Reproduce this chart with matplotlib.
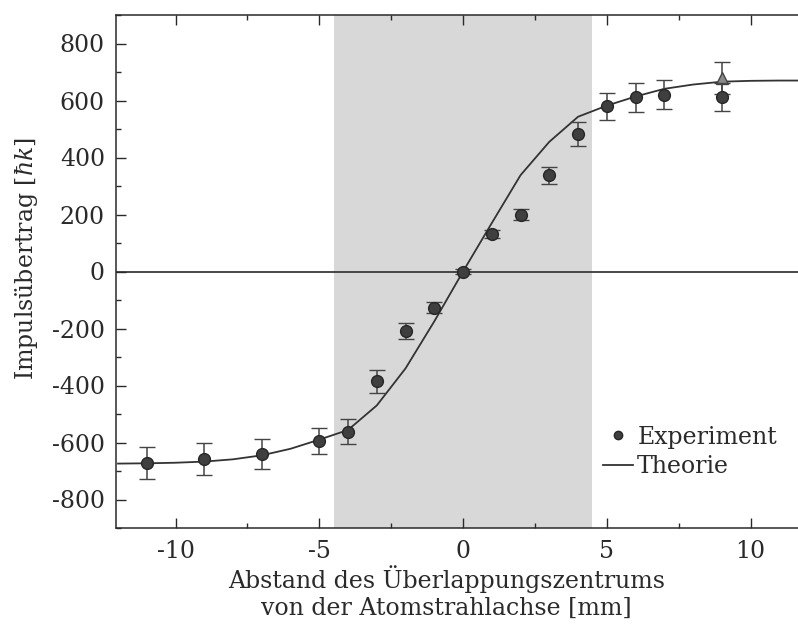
import matplotlib
matplotlib.use("Agg")
import matplotlib.pyplot as plt
from matplotlib.ticker import MultipleLocator
from matplotlib.lines import Line2D

plt.rcParams["font.family"] = ["DejaVu Serif"]
plt.rcParams["mathtext.fontset"] = "dejavuserif"
plt.rcParams["axes.unicode_minus"] = False

# Measured momentum transfer vs. distance of overlap centre from beam axis
exp_x = [-11, -9, -7, -5, -4, -3, -2, -1, 0, 1, 2, 3, 4, 5, 6, 7, 9]
exp_y = [-672, -658, -641, -594, -562, -385, -209, -127, 0, 133, 200, 337, 482, 579, 612, 621, 612]
exp_err = [56, 56, 53, 45, 44, 41, 28, 20, 8, 14, 18, 31, 43, 49, 51, 51, 49]

# Additional measurement (triangle)
extra_x = [9]
extra_y = [680]
extra_err = [56]

# Theoretical curve
theo_x = [-12, -11, -10, -9, -8, -7, -6, -5, -4, -3, -2, -1, 0,
          1, 2, 3, 4, 5, 6, 7, 8, 9, 10, 11, 12]
theo_y = [-674, -673, -671, -667, -659, -645, -622, -590, -556, -470, -340, -175, 0,
          170, 338, 455, 543, 582, 614, 641, 656, 666, 669, 670, 670]

# Overlap region of the laser beams
band = [-4.5, 4.5]

ink = "#2a2a2a"
fs = 17

fig = plt.figure(figsize=(7.98, 6.26), dpi=100)
ax = fig.add_axes([116 / 798, (626 - 528) / 626, 682 / 798, 513 / 626])

ax.axvspan(band[0], band[1], color="#d8d8d8", lw=0, zorder=0)
ax.axhline(0, color="#3a3a3a", lw=1.3, zorder=1)

ax.plot(theo_x, theo_y, color="#333333", lw=1.3, zorder=2)

ax.errorbar(extra_x, extra_y, yerr=extra_err, fmt="^", ms=8, mfc="#8a8a8a",
            mec="#444444", mew=1, ecolor="#444444", elinewidth=1.1,
            capsize=6, capthick=1.1, zorder=3)
ax.errorbar(exp_x, exp_y, yerr=exp_err, fmt="o", ms=8.5, mfc="#3f3f3f",
            mec="#262626", mew=1, ecolor="#444444", elinewidth=1.1,
            capsize=6, capthick=1.1, zorder=4)

ax.set_xlim(-12.07, 11.65)
ax.set_ylim(-900, 900)

ax.xaxis.set_major_locator(MultipleLocator(5))
ax.xaxis.set_minor_locator(MultipleLocator(2.5))
ax.yaxis.set_major_locator(MultipleLocator(200))
ax.yaxis.set_minor_locator(MultipleLocator(100))

ax.tick_params(axis="both", which="both", direction="in", colors=ink,
               labelsize=fs, top=True, right=False, labelcolor=ink)
ax.tick_params(axis="both", which="major", length=7, width=1)
ax.tick_params(axis="both", which="minor", length=3.5, width=1)
ax.tick_params(axis="y", which="major", pad=8)
ax.tick_params(axis="x", which="major", pad=9)

for side in ("left", "bottom", "top"):
    ax.spines[side].set_color(ink)
    ax.spines[side].set_linewidth(1.1)
ax.spines["right"].set_visible(False)

ax.set_ylabel(r"Impulsübertrag [$\hbar k$]", fontsize=fs, color=ink)
ax.yaxis.set_label_coords(-0.112, 0.526)
ax.set_xlabel("Abstand des Überlappungszentrums\nvon der Atomstrahlachse [mm]",
              fontsize=fs, color=ink, linespacing=1.2)
ax.xaxis.set_label_coords(0.485, -0.072)
ax.xaxis.label.set_verticalalignment("top")

handles = [
    Line2D([], [], ls="none", marker="o", ms=6, mfc="#3f3f3f", mec="#262626"),
    Line2D([], [], color="#333333", lw=1.3),
]
ax.legend(handles, ["Experiment", "Theorie"], loc="center left",
          bbox_to_anchor=((603 - 116) / 682, (528 - 452) / 513),
          frameon=False, fontsize=fs, handlelength=1.25, handletextpad=0.2,
          labelspacing=0.28, borderpad=0, borderaxespad=0, labelcolor=ink)

fig.savefig("out.png", dpi=100)
